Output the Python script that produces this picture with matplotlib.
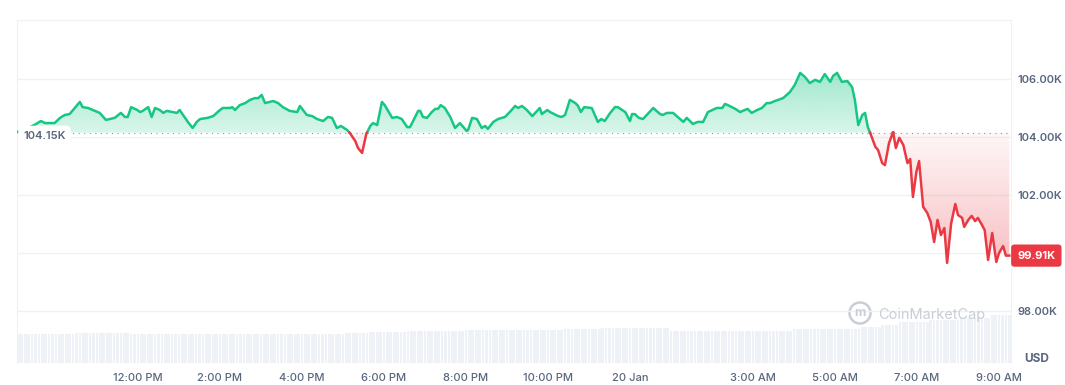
import matplotlib.pyplot as plt
import matplotlib.path as mpath
import numpy as np
from matplotlib.colors import to_rgb
from matplotlib.patches import Circle
from matplotlib.transforms import blended_transform_factory

plt.rcParams["font.family"] = ["Inter", "DejaVu Sans"]

# minutes after 9:00 AM, 19 Jan
minutes = [
    3, 10, 22, 31, 38, 44, 58, 66, 73, 80, 95, 99, 107, 114, 124, 133, 139, 146,
    155, 161, 165, 170, 179, 183, 187, 195, 200, 205, 212, 217, 222, 231, 237,
    241, 246, 253, 260, 266, 271, 282, 290, 300, 304, 315, 318, 322, 329, 337,
    344, 351, 356, 361, 366, 373, 378, 385, 392, 402, 413, 417, 427, 435, 442,
    451, 458, 464, 471, 477, 486, 490, 498, 502, 508, 514, 520, 524, 530, 537,
    541, 552, 559, 566, 574, 578, 582, 590, 593, 597, 603, 610, 615, 619, 623,
    629, 637, 644, 651, 661, 663, 669, 676, 683, 688, 692, 700, 707, 717, 724,
    732, 736, 742, 749, 757, 768, 771, 779, 783, 795, 800, 805, 812, 820, 824,
    828, 833, 844, 853, 858, 863, 871, 878, 882, 893, 900, 903, 907, 913, 919,
    934, 944, 948, 954, 963, 978, 983, 992, 999, 1007, 1014, 1027, 1035, 1039,
    1043, 1054, 1061, 1065, 1072, 1078, 1086, 1093, 1100, 1105, 1112, 1124,
    1134, 1141, 1149, 1156, 1163, 1171, 1178, 1185, 1193, 1197, 1203, 1210,
    1218, 1225, 1229, 1234, 1240, 1244, 1248, 1251, 1259, 1263, 1269, 1273,
    1279, 1285, 1289, 1294, 1300, 1306, 1310, 1314, 1319, 1323, 1329, 1335,
    1340, 1345, 1350, 1355, 1360, 1364, 1370, 1376, 1380, 1386, 1389, 1395,
    1400, 1405, 1409, 1415, 1419, 1424, 1430, 1436, 1440, 1446, 1450, 1455,
]
price_k = [
    104.17, 104.24, 104.34, 104.45, 104.55, 104.48, 104.48, 104.66, 104.76,
    104.79, 105.21, 105.03, 105.00, 104.93, 104.83, 104.59, 104.62, 104.66,
    104.83, 104.69, 104.69, 105.03, 104.93, 104.86, 104.90, 105.03, 104.69,
    105.00, 104.93, 104.83, 104.90, 104.86, 104.83, 104.93, 104.76, 104.52,
    104.31, 104.52, 104.62, 104.66, 104.72, 104.93, 105.00, 105.00, 105.03,
    104.93, 105.10, 105.17, 105.28, 105.34, 105.34, 105.45, 105.17, 105.21,
    105.24, 105.17, 105.03, 104.90, 104.86, 105.07, 104.76, 104.72, 104.62,
    104.55, 104.69, 104.66, 104.31, 104.38, 104.24, 104.14, 103.86, 103.62,
    103.45, 104.10, 104.38, 104.48, 104.41, 105.21, 105.10, 104.66, 104.69,
    104.62, 104.34, 104.34, 104.52, 104.90, 104.90, 104.69, 104.66, 104.86,
    104.97, 104.97, 105.10, 105.00, 104.69, 104.31, 104.48, 104.21, 104.24,
    104.66, 104.62, 104.31, 104.38, 104.28, 104.52, 104.62, 104.69, 104.86,
    105.07, 105.00, 105.07, 104.93, 104.72, 105.00, 104.79, 104.93, 104.86,
    104.72, 104.69, 104.76, 105.28, 105.17, 105.07, 104.86, 105.03, 105.00,
    104.52, 104.62, 104.55, 104.83, 105.03, 105.03, 104.86, 104.55, 104.79,
    104.79, 104.66, 104.62, 105.00, 104.79, 104.76, 104.83, 104.83, 104.52,
    104.66, 104.45, 104.52, 104.52, 104.86, 105.00, 105.00, 105.14, 105.10,
    104.97, 104.86, 104.90, 104.97, 104.83, 104.93, 105.00, 105.17, 105.17,
    105.24, 105.34, 105.55, 105.79, 106.21, 106.07, 105.86, 105.97, 105.90,
    106.17, 105.90, 106.10, 106.21, 105.90, 105.93, 105.72, 105.28, 104.41,
    104.76, 104.83, 104.34, 104.17, 103.66, 103.55, 103.10, 103.03, 103.79,
    104.17, 103.62, 103.97, 103.72, 103.10, 103.24, 101.93, 102.79, 103.17,
    101.59, 101.38, 101.07, 100.38, 101.14, 100.62, 100.86, 99.66, 101.03,
    101.69, 101.31, 101.21, 100.90, 101.14, 101.28, 101.10, 101.21, 100.97,
    100.79, 99.76, 100.69, 99.69, 100.00, 100.24, 99.91, 99.91,
]
base_k = 104.15
last_k = 99.91

# 24h volume (relative), step levels
vol_edges = [88, 168, 483, 520, 575, 658, 805, 859, 956, 1139, 1237, 1266,
             1295, 1339, 1383, 1427]
vol_levels = [58, 60, 58, 60, 62, 64, 66, 68, 70, 64, 68, 72, 76, 82, 86, 90, 96]

tick_minutes = [180, 300, 420, 540, 660, 780, 900, 1080, 1200, 1320, 1440]
tick_labels = ["12:00 PM", "2:00 PM", "4:00 PM", "6:00 PM", "8:00 PM",
               "10:00 PM", "20 Jan", "3:00 AM", "5:00 AM", "7:00 AM", "9:00 AM"]
y_ticks = [98, 100, 102, 104, 106]
y_labels = ["98.00K", "", "102.00K", "104.00K", "106.00K"]

GREEN = "#16c784"
RED = "#ea3943"
GRAY = "#58667e"
BORDER = "#eff2f5"


def gradient_fill(ax, xs, ys, mask, color, y_lo, y_hi, a_lo, a_hi):
    coll = ax.fill_between(xs, ys, base_k, where=mask, interpolate=True,
                           facecolor="none", edgecolor="none")
    path = mpath.Path.make_compound_path(*coll.get_paths())
    rgba = np.zeros((256, 1, 4))
    rgba[..., :3] = to_rgb(color)
    rgba[:, 0, 3] = np.linspace(a_lo, a_hi, 256)
    im = ax.imshow(rgba, extent=[xs[0], xs[-1], y_lo, y_hi], origin="lower",
                   aspect="auto", zorder=1, interpolation="bilinear")
    im.set_clip_path(path, ax.transData)


def main():
    fig = plt.figure(figsize=(10.65, 3.85), dpi=100)
    ax = fig.add_axes([17 / 1065, 22 / 385, 994 / 1065, 343 / 385])
    axv = ax.twinx()
    ax.set_zorder(2)
    axv.set_zorder(1)
    ax.patch.set_visible(False)

    # volume bars
    t = np.arange(5, 1456, 5)
    heights = np.array(vol_levels)[np.searchsorted(vol_edges, t, side="right")]
    axv.bar(t, heights, width=4, color="#eef1f5", linewidth=0)
    axv.set_ylim(0, 686)
    axv.set_yticks([])
    for s in axv.spines.values():
        s.set_visible(False)

    # split the line where it crosses the baseline
    x = np.array(minutes, float)
    y = np.array(price_k)
    xs, ys = [x[0]], [y[0]]
    for i in range(1, len(x)):
        if (y[i - 1] - base_k) * (y[i] - base_k) < 0:
            f = (base_k - y[i - 1]) / (y[i] - y[i - 1])
            xs.append(x[i - 1] + f * (x[i] - x[i - 1]))
            ys.append(base_k)
        xs.append(x[i])
        ys.append(y[i])
    xs = np.array(xs)
    ys = np.array(ys)

    gradient_fill(ax, xs, ys, ys >= base_k, GREEN, base_k, ys.max(), 0.16, 0.40)
    gradient_fill(ax, xs, ys, ys <= base_k, RED, ys.min(), base_k, 0.32, 0.04)

    ax.plot(xs, np.where(ys >= base_k, ys, np.nan), color=GREEN, lw=1.8, zorder=3,
            solid_joinstyle="round")
    ax.plot(xs, np.where(ys <= base_k, ys, np.nan), color=RED, lw=1.8, zorder=3,
            solid_joinstyle="round")
    ax.axhline(base_k, color="#8a94a4", lw=0.8, ls=(0, (1, 4)), zorder=2)

    ax.set_xlim(3, 1457.5)
    ax.set_ylim(96.207, 108.034)

    ax.set_yticks(y_ticks, y_labels)
    ax.yaxis.tick_right()
    ax.grid(axis="y", color=BORDER, lw=1)
    ax.set_axisbelow(True)
    ax.set_xticks(tick_minutes, tick_labels)
    ax.tick_params(axis="x", length=0, pad=7.5, labelsize=8, labelcolor=GRAY)
    ax.tick_params(axis="y", length=0, pad=4.5, labelsize=8, labelcolor=GRAY)
    for lab in ax.get_xticklabels():
        lab.set_fontweight(500)
    for lab in ax.get_yticklabels():
        lab.set_fontweight(600)
    for name in ["left", "top", "right"]:
        ax.spines[name].set_color(BORDER)
    ax.spines["bottom"].set_visible(False)

    trans = blended_transform_factory(ax.transAxes, ax.transData)
    ax.annotate(f"{base_k:.2f}K", xy=(0, base_k), xycoords=trans,
                xytext=(4.5, -2.2), textcoords="offset points", ha="left",
                va="center", fontsize=8, color=GRAY, fontweight=600,
                zorder=5,
                bbox=dict(boxstyle="round,pad=0.45,rounding_size=0.4",
                          fc="white", ec="none"))
    ax.annotate(f"{last_k:.2f}K", xy=(1, last_k), xycoords=trans,
                xytext=(4.5, 0), textcoords="offset points", ha="left",
                va="center", fontsize=8, color="white", fontweight="bold",
                annotation_clip=False, zorder=5,
                bbox=dict(boxstyle="round,pad=0.55,rounding_size=0.3",
                          fc=RED, ec="none"))

    fig.text(1037 / 1065, 1 - 359 / 385, "USD", ha="center", va="center",
             fontsize=8.5, fontweight="bold", color=GRAY)

    # watermark
    fig.add_artist(Circle((8.60, 0.72), 0.105, transform=fig.dpi_scale_trans,
                          fill=False, ec="#c9ced6", lw=1.8))
    fig.text(860 / 1065, 0.72 / 3.85, "m", ha="center", va="center",
             fontsize=9, fontweight="bold", color="#c9ced6")
    fig.text(878 / 1065, 1 - 315 / 385, "CoinMarketCap", ha="left", va="center",
             fontsize=10.5, color="#c9ced6")

    fig.savefig("out.png", dpi=100, facecolor="white")


if __name__ == "__main__":
    main()
